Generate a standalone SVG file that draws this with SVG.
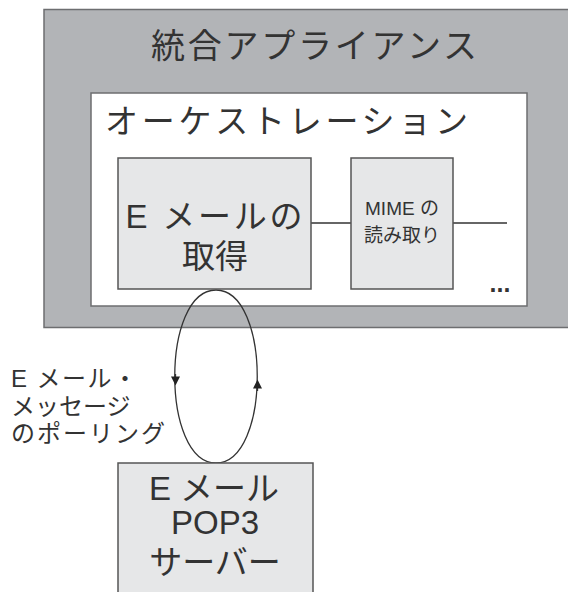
<svg xmlns="http://www.w3.org/2000/svg" width="568" height="592" viewBox="0 0 568 592">
<style>
.t{font-family:"Liberation Sans","Noto Sans CJK JP",sans-serif;fill:#333;}
.box{fill:#e6e7e8;stroke:#555;stroke-width:1.5;}
.ln{stroke:#333;stroke-width:1.3;fill:none;}
</style>
<defs>
<marker id="ah" viewBox="0 0 10 10" refX="5" refY="5" markerUnits="userSpaceOnUse" markerWidth="10" markerHeight="9" orient="auto">
<path d="M0,0 L10,5 L0,10 z" fill="#222"/>
</marker>
</defs>
<rect width="568" height="592" fill="#fff"/>
<g id="appliance">
<rect x="44" y="9.5" width="530" height="318" fill="#b2b4b7" stroke="#6d6e70" stroke-width="1.5"/>
<text class="t" x="314" y="58" font-size="34" text-anchor="middle" textLength="326" lengthAdjust="spacing">統合アプライアンス</text>
</g>
<g id="orchestration">
<rect x="91" y="93" width="436" height="213" fill="#fff" stroke="#6d6e70" stroke-width="1.5"/>
<text class="t" x="105" y="133" font-size="33" textLength="363" lengthAdjust="spacing">オーケストレーション</text>
<text class="t" x="500" y="292" font-size="25" text-anchor="middle" font-weight="bold">...</text>
</g>
<g id="connectors">
<line class="ln" x1="311" y1="223" x2="351" y2="223"/>
<line class="ln" x1="453" y1="223" x2="507" y2="223"/>
<path class="ln" d="M216,290 C161,290 161,463 216,463 C271,463 271,290 216,290 Z"/>
<path class="ln" d="M175.5,374 L175.5,381" marker-end="url(#ah)"/>
<path class="ln" d="M257.5,391 L257.5,384" marker-end="url(#ah)"/>
</g>
<g id="fetch">
<rect class="box" x="118" y="158" width="193" height="131"/>
<text class="t" x="214" y="228" font-size="33" text-anchor="middle" textLength="177" lengthAdjust="spacing">E メールの</text>
<text class="t" x="215" y="268" font-size="33" text-anchor="middle">取得</text>
</g>
<g id="mime">
<rect class="box" x="351" y="158" width="102" height="131"/>
<text class="t" x="402" y="215" font-size="19" text-anchor="middle">MIME の</text>
<text class="t" x="402" y="242" font-size="19" text-anchor="middle">読み取り</text>
</g>
<g id="polling-label">
<text class="t" x="11" y="387" font-size="24" textLength="126" lengthAdjust="spacing">E メール・</text>
<text class="t" x="11" y="415" font-size="24">メッセージ</text>
<text class="t" x="11" y="442" font-size="24" textLength="154" lengthAdjust="spacing">のポーリング</text>
</g>
<g id="pop3">
<rect class="box" x="118" y="463" width="195" height="140"/>
<text class="t" x="214" y="500" font-size="33" text-anchor="middle">E メール</text>
<text class="t" x="215" y="534" font-size="33" text-anchor="middle">POP3</text>
<text class="t" x="215" y="574" font-size="33" text-anchor="middle">サーバー</text>
</g>
</svg>
